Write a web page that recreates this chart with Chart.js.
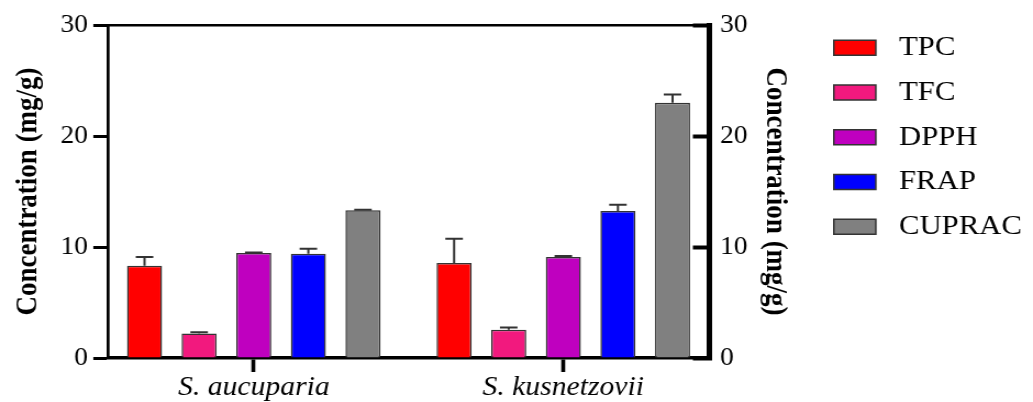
<!DOCTYPE html>
<html>
<head>
<meta charset="utf-8">
<script src="https://cdn.jsdelivr.net/npm/chart.js@4.4.1/dist/chart.umd.min.js"></script>
<style>
html, body { margin: 0; padding: 0; background: #fff; }
</style>
</head>
<body>
<!-- the source picture is stretched sideways, so the canvas is drawn narrower and widened by css -->
<canvas id="chart" width="940" height="402" style="display:block;width:1033px;height:402px;"></canvas>
<script>
var groups = ['S. aucuparia', 'S. kusnetzovii'];
var seriesNames = ['TPC', 'TFC', 'DPPH', 'FRAP', 'CUPRAC'];

var tpc = [8.3, 8.55];
var tfc = [2.2, 2.55];
var dpph = [9.45, 9.1];
var frap = [9.4, 13.25];
var cuprac = [13.3, 23.0];

var tpcErr = [0.8, 2.2];
var tfcErr = [0.12, 0.2];
var dpphErr = [0.05, 0.08];
var frapErr = [0.45, 0.55];
var cupracErr = [0.05, 0.75];

var yMin = 0;
var yMax = 30;
var yStep = 10;

var serif = 'Liberation Serif, Times New Roman, serif';

function points(values) {
    return values.map(function (v, i) {
        return { x: i, y: v };
    });
}

function makeSet(name, values, errors, color) {
    return {
        label: name,
        data: points(values),
        errors: errors,
        backgroundColor: color,
        borderColor: '#333333',
        borderWidth: 1.5,
        categoryPercentage: 0.882,
        barPercentage: 0.642
    };
}

// one-sided error bars on top of each bar
var errorBars = {
    id: 'errorBars',
    afterDatasetsDraw: function (chart) {
        var ctx = chart.ctx;
        var yScale = chart.scales.y;
        chart.data.datasets.forEach(function (ds, i) {
            var meta = chart.getDatasetMeta(i);
            meta.data.forEach(function (bar, j) {
                var top = yScale.getPixelForValue(ds.data[j].y + ds.errors[j]);
                var half = bar.width / 4;
                ctx.save();
                ctx.strokeStyle = '#333333';
                ctx.lineWidth = 2;
                ctx.beginPath();
                ctx.moveTo(bar.x, bar.y);
                ctx.lineTo(bar.x, top);
                ctx.moveTo(bar.x - half, top);
                ctx.lineTo(bar.x + half, top);
                ctx.stroke();
                ctx.restore();
            });
        });
    }
};

var ctx = document.getElementById('chart').getContext('2d');
var chart = new Chart(ctx, {
    type: 'bar',
    data: {
        datasets: [
            makeSet(seriesNames[0], tpc, tpcErr, '#ff0000'),
            makeSet(seriesNames[1], tfc, tfcErr, '#f2197e'),
            makeSet(seriesNames[2], dpph, dpphErr, '#bf00bf'),
            makeSet(seriesNames[3], frap, frapErr, '#0000ff'),
            makeSet(seriesNames[4], cuprac, cupracErr, '#808080')
        ]
    },
    plugins: [errorBars],
    options: {
        responsive: false,
        animation: false,
        devicePixelRatio: 1,
        layout: {
            padding: { top: 17, left: 0, right: 0, bottom: 0 }
        },
        plugins: {
            tooltip: { enabled: false },
            legend: {
                position: 'right',
                align: 'start',
                maxWidth: 400,
                labels: {
                    boxWidth: 38.2,
                    boxHeight: 15,
                    padding: 16.75,
                    color: '#000',
                    font: { family: serif, size: 28 },
                    generateLabels: function (chart) {
                        return Chart.defaults.plugins.legend.labels.generateLabels(chart).map(function (item) {
                            item.text = ' ' + item.text;
                            return item;
                        });
                    }
                }
            }
        },
        scales: {
            x: {
                type: 'linear',
                position: 'bottom',
                offset: false,
                min: -0.47,
                max: 1.47,
                afterBuildTicks: function (scale) {
                    scale.ticks = groups.map(function (g, i) {
                        return { value: i };
                    });
                },
                afterFit: function (scale) {
                    scale.height = 44;
                },
                grid: {
                    offset: false,
                    drawOnChartArea: false,
                    tickLength: 14,
                    tickWidth: 3.6,
                    tickColor: '#000'
                },
                border: { display: true, width: 3.5, color: '#000' },
                ticks: {
                    autoSkip: false,
                    maxRotation: 0,
                    padding: 0,
                    color: '#000',
                    font: { family: serif, size: 27, style: 'italic' },
                    callback: function (value) {
                        return groups[value];
                    }
                }
            },
            xTop: {
                type: 'linear',
                position: 'top',
                offset: false,
                min: -0.47,
                max: 1.47,
                afterFit: function (scale) {
                    scale.height = 8;
                },
                grid: { display: false, offset: false },
                ticks: { display: false },
                border: { display: true, width: 2.5, color: '#000' }
            },
            y: {
                position: 'left',
                min: yMin,
                max: yMax,
                afterFit: function (scale) {
                    scale.width = 98.5;
                    scale.paddingTop = 0;
                    scale.paddingBottom = 0;
                },
                grid: {
                    drawOnChartArea: false,
                    tickLength: 13.6,
                    tickWidth: 3,
                    tickColor: '#000'
                },
                border: { display: true, width: 2.7, color: '#000' },
                ticks: {
                    stepSize: yStep,
                    padding: 5,
                    color: '#000',
                    font: { family: serif, size: 25 }
                },
                title: {
                    display: true,
                    text: 'Concentration (mg/g)',
                    color: '#000',
                    padding: { top: 10.2, bottom: 0 },
                    font: { family: serif, size: 27, weight: 'bold' }
                }
            },
            y2: {
                position: 'right',
                min: yMin,
                max: yMax,
                afterFit: function (scale) {
                    var lw = scale.chart.legend ? scale.chart.legend.width : 198;
                    scale.width = scale.chart.width - lw - 645;
                    scale.paddingTop = 0;
                    scale.paddingBottom = 0;
                },
                grid: {
                    drawOnChartArea: false,
                    tickLength: -14.5,
                    tickWidth: 4,
                    tickColor: '#000'
                },
                border: { display: true, width: 5, color: '#000' },
                ticks: {
                    stepSize: yStep,
                    padding: 24.7,
                    color: '#000',
                    font: { family: serif, size: 25 }
                },
                title: {
                    display: true,
                    text: 'Concentration (mg/g)',
                    color: '#000',
                    padding: { top: 20.6, bottom: 0 },
                    font: { family: serif, size: 27, weight: 'bold' }
                }
            }
        }
    }
});
</script>
</body>
</html>
